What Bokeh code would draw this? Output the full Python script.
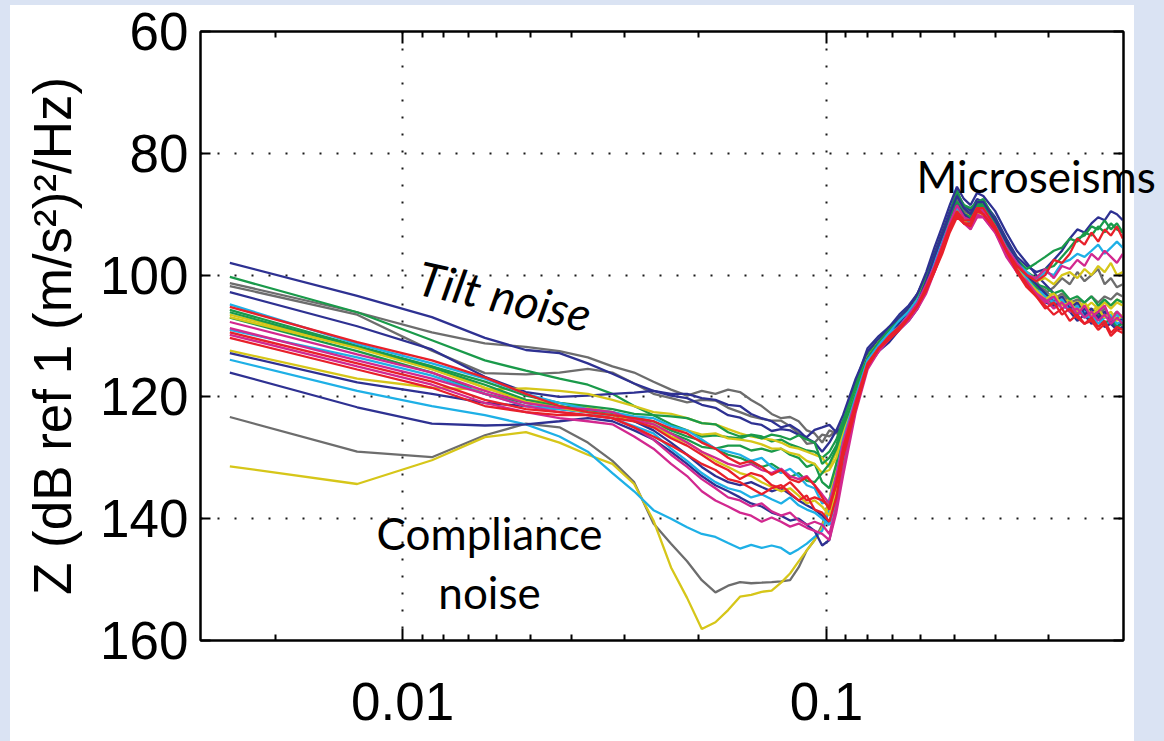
from bokeh.plotting import figure
from bokeh.models import Range1d, FixedTicker, LogAxis, LinearAxis, Label
from bokeh.embed import file_html
from bokeh.resources import INLINE

# ---------------- data ----------------
FREQ = [0.00391, 0.00781, 0.01172, 0.01563, 0.01953, 0.02344, 0.02734, 0.03125,
        0.03516, 0.03906, 0.04297, 0.04688, 0.05078, 0.05469, 0.05859, 0.0625,
        0.06641, 0.07031, 0.07422, 0.07813, 0.08203, 0.08594, 0.08984, 0.09375,
        0.09766, 0.10156, 0.10547, 0.10938,
        0.11719, 0.125, 0.13281, 0.14063, 0.14844, 0.15625, 0.16406, 0.17188,
        0.17969, 0.1875, 0.19531, 0.20313, 0.21094, 0.21875, 0.22656, 0.23438,
        0.25, 0.26563, 0.28125, 0.29688, 0.3125, 0.32813, 0.34375, 0.35938,
        0.375, 0.39063, 0.40625, 0.42188, 0.4375, 0.45313, 0.46875, 0.48438, 0.5]

navy_a = [98.0,103.4,106.9,110.3,112.3,112.8,114.5,116.2,
          117.8,119.0,119.8,120.2,121.3,121.8,123.0,123.4,124.3,124.6,125.6,125.3,
          125.5,126.2,126.6,125.4,125.0,124.6,125.8,124.8,
          117.5,112.0,110.0,108.5,106.5,105.0,103.0,100.0,96.5,93.0,89.5,86.5,88.5,89.5,87.5,88.0,
          90.5,94.0,97.0,98.5,99.5,99.0,97.5,96.0,94.0,92.5,93.0,91.5,90.5,91.0,89.5,90.0,91.0]
green_a = [100.3,106.1,110.7,114.0,115.7,117.0,118.0,119.5,
           121.5,123.0,124.5,125.5,126.5,126.3,126.6,126.8,126.2,126.5,127.3,127.0,
           127.8,128.3,128.8,129.0,130.0,129.0,127.0,124.0,
           118.0,113.0,110.5,109.0,107.0,105.5,103.5,100.5,97.0,93.5,90.0,86.0,89.0,90.0,88.5,88.0,
           91.0,94.5,97.5,99.5,100.5,99.0,98.5,97.0,95.5,94.0,93.5,92.0,92.5,91.0,92.5,91.5,93.0]
gray_a = [101.3,106.1,109.4,111.2,111.8,112.5,113.5,115.0,
          116.0,117.5,118.8,119.8,119.0,119.5,118.8,119.2,120.5,121.5,122.8,123.5,
          123.3,124.0,125.5,126.0,127.5,125.5,126.0,125.5,
          119.0,113.5,111.0,109.0,108.0,106.0,104.0,101.5,98.0,94.5,91.0,88.5,90.0,90.5,88.0,88.5,
          92.0,95.5,98.0,100.5,101.0,103.0,102.0,100.5,101.5,99.5,101.0,100.0,99.0,101.5,100.5,102.0,101.5]
navy_b = [102.8,108.4,112.2,116.7,119.2,120.0,119.8,119.5,
          119.3,119.0,119.5,119.5,120.2,120.5,121.3,121.5,122.8,123.5,124.0,125.0,
          124.6,125.5,126.8,127.5,129.0,127.5,125.5,123.0,
          117.0,112.5,110.5,108.5,107.0,105.5,103.0,99.5,95.5,92.0,88.5,85.5,87.5,88.5,86.5,87.0,
          89.5,93.0,96.0,98.0,100.0,101.5,103.0,104.5,105.0,106.5,105.5,107.0,106.0,108.0,107.5,108.5,107.5]
cyan_a = [104.8,111.3,114.5,117.0,119.5,121.0,122.0,122.5,
          123.2,123.5,124.8,125.5,127.0,128.5,129.0,129.5,130.5,130.0,131.5,132.5,
          131.8,133.0,134.5,135.0,137.5,137.0,133.0,128.0,
          120.5,114.0,111.5,109.5,108.5,106.5,104.5,102.0,99.0,95.5,92.0,89.5,91.0,91.5,89.5,89.0,
          92.0,95.5,98.0,99.5,101.0,99.5,100.0,98.0,97.5,96.5,97.0,96.0,95.0,96.5,95.5,94.5,95.5]
red_a = [105.2,111.0,114.0,116.8,119.5,121.5,122.5,123.0,
         123.5,124.0,125.2,126.0,127.5,128.5,130.0,131.0,130.5,131.5,132.8,132.0,
         133.5,134.0,133.2,134.5,136.5,138.5,134.0,129.0,
         121.5,115.0,112.0,110.5,109.0,107.0,105.0,102.5,99.5,96.5,93.0,90.5,91.5,92.0,89.5,90.0,
         92.5,96.0,98.5,100.0,101.0,100.0,97.5,98.0,96.5,94.0,95.0,93.0,94.5,92.5,93.5,92.0,94.0]
green_b = [105.7,111.6,115.0,117.5,119.8,121.0,121.5,122.0,
           122.8,123.0,123.2,123.5,124.3,124.5,125.8,126.5,126.3,126.8,126.2,126.5,
           127.0,126.3,127.0,127.5,131.0,130.0,128.0,124.0,
           118.5,113.5,111.0,109.0,107.5,106.0,104.0,101.0,97.5,94.0,90.5,87.0,88.5,89.0,88.0,87.5,
           91.0,95.0,98.0,100.5,102.0,103.0,104.5,104.0,105.5,106.0,106.5,107.5,106.5,108.0,107.0,108.5,108.0]
green_c = [106.1,111.8,115.2,118.0,120.5,121.5,122.3,122.6,
           123.4,124.0,125.5,126.5,127.2,128.5,129.5,130.0,130.8,131.5,131.0,132.0,
           133.2,132.5,133.8,134.0,132.5,131.0,128.5,125.0,
           119.5,114.0,111.5,110.0,108.0,106.5,104.5,101.5,98.0,94.5,91.0,88.0,90.0,90.5,89.0,88.5,
           91.5,95.0,97.5,100.0,101.5,102.0,103.0,102.5,104.0,103.5,104.5,103.5,105.0,104.0,105.0,104.0,104.5]
yellow_a = [106.5,111.8,115.0,118.5,120.5,121.0,121.8,122.5,
            124.0,125.0,125.3,125.5,126.2,126.0,126.8,127.0,127.3,127.8,128.5,128.5,
            129.2,129.5,130.5,131.0,132.5,132.0,130.0,126.0,
            119.0,113.5,111.0,109.5,108.0,106.0,104.0,101.5,98.0,94.5,91.5,89.0,91.0,91.5,90.0,89.5,
            92.5,96.0,98.5,99.5,101.0,100.5,101.5,100.0,99.5,100.5,99.0,100.0,98.5,99.5,98.0,100.0,99.5]
yellow_b = [106.9,112.0,115.5,118.5,120.8,121.8,122.5,123.0,
            123.8,124.5,126.5,127.5,129.0,130.5,131.5,132.5,133.0,134.0,134.8,135.5,
            135.0,136.2,137.5,137.0,138.0,139.5,135.0,129.0,
            121.0,114.5,112.0,110.5,108.5,107.0,105.0,102.5,99.0,95.5,92.0,89.5,91.0,92.0,90.5,90.0,
            92.5,96.5,99.0,101.0,102.5,104.0,103.0,105.0,104.5,106.0,105.0,106.5,105.5,107.0,106.0,107.5,106.5]
magenta_a = [107.7,113.0,116.0,119.0,121.0,121.8,122.0,122.5,
             123.8,124.5,126.0,127.5,129.0,130.0,131.0,131.5,131.0,132.0,132.5,131.8,
             133.0,133.5,133.0,134.5,136.0,137.5,133.0,127.5,
             120.5,114.5,112.0,110.0,108.5,106.5,104.5,101.5,98.5,95.0,91.5,88.5,90.5,91.0,89.0,89.5,
             92.0,95.5,98.0,100.0,100.5,99.0,100.5,98.5,99.0,97.5,98.5,96.5,97.5,96.0,97.0,98.0,96.5]
magenta_b = [108.7,114.0,117.0,119.5,121.5,122.5,123.0,123.5,
             125.0,127.0,129.5,131.5,133.5,135.0,136.5,137.0,138.0,137.5,138.8,139.5,
             139.0,140.3,141.0,140.5,141.0,142.5,138.0,132.0,
             122.0,115.0,112.5,110.5,109.0,107.5,105.5,103.0,99.5,96.0,92.5,90.0,91.5,92.5,90.5,90.5,
             93.0,96.5,99.5,101.5,103.0,104.5,103.5,105.5,104.5,106.5,105.0,107.0,106.0,105.0,107.5,106.0,107.0]
cyan_b = [109.0,113.5,116.5,119.5,121.5,122.0,122.5,123.5,
          124.8,126.0,128.5,130.5,132.5,134.0,135.0,135.5,136.5,136.0,136.8,137.5,
          136.5,137.8,138.5,139.0,140.0,141.0,136.5,130.5,
          121.0,114.0,112.0,110.0,108.5,106.5,104.5,102.0,98.5,95.0,91.5,89.0,90.5,91.5,89.5,89.5,
          92.5,96.0,99.0,101.0,102.5,103.5,104.5,104.0,106.0,105.0,107.0,106.5,108.0,107.0,106.5,108.0,107.5]
red_b = [109.4,114.5,117.5,120.5,122.0,122.5,123.0,123.5,
         124.0,125.0,126.8,128.0,129.5,131.0,132.0,133.5,132.5,133.0,134.5,135.0,
         134.0,135.5,137.0,136.5,137.0,138.0,134.5,128.5,
         121.0,114.5,112.0,110.5,109.0,107.0,105.0,102.0,99.0,95.5,92.0,89.5,91.0,91.0,89.0,89.0,
         92.0,96.0,99.5,102.0,103.5,105.5,104.5,106.5,105.5,107.0,108.0,107.0,108.5,107.5,109.5,108.5,109.0]
magenta_c = [109.8,115.0,118.0,121.0,122.5,123.5,124.0,124.5,
             126.5,128.5,131.0,133.0,135.5,137.0,138.0,139.0,139.5,140.5,139.8,140.5,
             141.3,140.8,141.5,142.0,142.5,143.5,139.0,133.0,
             122.5,115.5,112.5,110.5,109.0,107.0,105.0,102.5,99.5,96.0,92.5,90.0,91.5,92.0,90.0,90.5,
             93.0,97.0,99.5,101.0,103.0,104.0,105.5,104.5,106.0,105.5,107.0,106.0,107.5,106.5,108.0,107.0,108.0]
red_c = [110.3,115.5,118.5,121.5,122.5,123.0,123.0,123.5,
         125.0,126.5,128.0,129.5,131.0,132.0,133.5,134.0,135.0,136.0,135.0,134.5,
         135.8,137.0,136.2,138.5,139.0,140.5,136.5,130.0,
         122.0,115.0,112.0,110.0,108.5,107.0,105.0,102.5,99.0,95.5,92.5,90.0,91.5,91.5,89.0,90.0,
         92.5,96.0,99.0,101.5,103.5,105.0,106.5,105.5,107.5,106.5,108.0,107.5,109.0,108.0,110.0,109.0,109.5]
yellow_c = [112.4,117.0,118.5,118.8,118.6,119.0,119.5,120.5,
            121.5,122.5,122.8,123.5,124.3,124.5,125.3,126.0,126.5,126.8,127.0,127.5,
            128.2,128.5,129.0,129.5,130.0,131.5,129.0,125.5,
            119.0,113.5,111.0,109.5,107.5,106.0,104.0,101.0,97.5,94.0,91.0,88.5,90.5,91.0,89.5,89.0,
            92.0,95.5,98.5,100.5,102.0,103.5,103.0,104.5,104.0,105.5,104.5,106.0,105.0,104.5,105.5,104.5,105.0]
navy_c = [112.8,117.6,119.5,121.0,121.5,122.0,122.5,123.0,
          124.0,125.5,127.5,129.5,131.5,133.0,134.0,134.5,134.0,134.8,135.5,135.0,
          136.0,137.0,137.8,138.5,139.5,141.0,136.0,129.5,
          121.0,114.0,111.5,110.0,108.0,106.5,104.5,101.0,97.0,93.5,90.0,87.0,89.0,90.0,88.0,88.0,
          91.0,94.5,97.5,100.0,101.5,103.0,104.5,103.5,105.5,104.5,106.5,105.5,107.0,106.0,108.0,107.0,107.5]
cyan_c = [113.9,119.0,121.5,123.0,124.5,126.5,129.0,132.5,
          135.5,138.6,140.0,141.4,142.5,143.0,144.0,144.9,144.3,144.8,144.4,144.8,
          145.8,145.0,144.1,143.0,142.0,138.5,133.0,127.0,
          120.0,114.0,111.5,109.5,107.5,106.0,104.0,101.5,98.0,94.5,91.5,89.0,90.5,91.0,89.5,89.5,
          92.0,96.0,99.0,100.5,102.5,103.0,104.0,105.5,105.0,106.5,106.0,107.5,107.0,108.5,107.5,106.5,107.5]
navy_d = [116.0,121.7,124.4,124.7,124.5,124.0,123.5,124.0,
          125.5,127.0,129.0,131.0,133.0,134.5,135.5,136.5,137.5,138.0,139.0,139.5,
          140.3,140.0,141.0,142.0,144.4,143.5,138.0,131.0,
          122.0,115.0,112.5,111.0,109.0,107.5,105.5,102.5,99.0,95.0,91.5,88.5,90.0,91.0,89.0,89.0,
          92.5,96.0,99.0,101.5,103.0,104.5,105.0,104.5,106.0,107.5,106.5,108.0,107.0,108.5,108.0,109.0,108.5]
gray_b = [123.3,129.0,129.9,126.3,124.4,125.0,127.5,130.5,
          134.0,140.8,144.1,147.0,150.1,152.1,151.0,150.4,150.6,150.5,150.4,150.3,
          150.1,148.0,145.2,143.5,141.0,137.0,131.5,126.0,
          120.0,114.0,111.5,109.5,108.0,106.0,104.0,101.0,97.5,94.0,90.5,88.0,90.0,90.5,88.5,89.0,
          92.0,95.5,98.5,100.5,102.0,103.5,105.0,104.0,105.5,104.5,106.0,105.5,106.5,105.5,107.0,106.0,107.0]
yellow_d = [131.4,134.3,130.4,126.6,125.8,127.5,129.5,131.0,
            134.3,140.3,148.0,153.0,158.1,157.0,155.0,152.8,152.5,152.0,151.8,150.5,
            149.0,147.0,145.2,143.5,141.5,137.0,131.0,125.0,
            118.5,113.5,111.0,109.0,107.5,105.5,103.5,100.5,97.0,93.5,90.0,87.5,89.5,90.5,88.5,88.5,
            91.5,95.0,98.0,100.5,102.0,103.0,104.0,103.5,105.0,104.0,105.5,104.5,105.5,104.5,105.0,104.0,104.5]
gray_c = [101.8,106.5,112.4,116.1,116.3,116.0,115.4,116.0,
          117.8,119.5,120.2,120.9,120.5,120.6,121.8,122.5,123.2,123.6,123.9,123.9,
          124.8,126.0,127.7,127.5,126.2,126.5,125.5,124.0,
          118.0,113.0,110.5,108.5,107.0,105.5,103.0,100.0,96.5,93.0,90.0,87.5,89.5,90.0,88.0,88.0,
          91.0,94.5,97.5,100.0,101.5,102.5,104.0,103.0,104.5,104.0,104.5,103.5,104.5,103.5,104.0,103.0,103.5]
green_d = [107.0,112.5,116.0,119.5,121.0,121.5,122.0,122.5,
           123.5,124.5,126.0,127.0,128.2,128.5,128.0,128.0,128.8,128.5,129.0,128.5,
           129.5,130.0,131.5,131.0,134.0,135.0,131.0,126.0,
           119.5,114.0,111.5,109.5,108.0,106.0,104.0,101.0,97.5,94.0,90.5,88.0,90.0,90.5,88.5,88.5,
           91.5,95.0,97.5,99.0,98.0,97.0,96.0,95.5,94.0,94.5,93.0,93.5,92.0,93.0,91.5,92.5,93.0]

NAVY, GREEN, RED, CYAN = "#2e3192", "#1a9a4a", "#e8202a", "#1eb0e6"
MAGENTA, YELLOW, GRAY = "#d2288f", "#d6c619", "#6d6d6d"

SERIES = [
    (gray_b, GRAY), (yellow_d, YELLOW), (gray_c, GRAY), (gray_a, GRAY),
    (navy_a, NAVY), (green_a, GREEN), (navy_b, NAVY), (green_d, GREEN),
    (yellow_a, YELLOW), (yellow_c, YELLOW), (green_b, GREEN), (green_c, GREEN),
    (cyan_c, CYAN), (navy_d, NAVY), (navy_c, NAVY), (cyan_a, CYAN), (cyan_b, CYAN),
    (yellow_b, YELLOW), (magenta_a, MAGENTA), (magenta_b, MAGENTA), (magenta_c, MAGENTA),
    (red_a, RED), (red_b, RED), (red_c, RED),
]

X_MAJOR = [0.01, 0.1]
X_MINOR = [0.005, 0.01111, 0.0125, 0.01429, 0.01667, 0.02, 0.025, 0.03333, 0.05,
           0.1111, 0.125, 0.1429, 0.1667, 0.2, 0.25, 0.3333]
Y_TICKS = [60, 80, 100, 120, 140, 160]
MICRO_Y = 83.8   # level (dB) where the "Microseisms" note sits

FONT = "Liberation Sans"
TXT = "Lato"

# ---------------- figure ----------------
p = figure(width=1164, height=741, x_axis_type="log",
           x_range=Range1d(0.003334, 0.502), y_range=Range1d(160, 60),
           output_backend="svg", toolbar_location=None,
           min_border_left=200, min_border_right=41, min_border_top=31, min_border_bottom=101,
           background_fill_color="white")
p.border_fill_alpha = 0
p.styles = {
    "background": ("linear-gradient(to right, #dae3f3 0px, #dae3f3 10px, rgba(255,255,255,0) 10px, "
                   "rgba(255,255,255,0) 1134px, #dae3f3 1134px), "
                   "linear-gradient(to bottom, #dae3f3 0px, #dae3f3 5px, #ffffff 5px)")
}

p.outline_line_color = "black"
p.outline_line_width = 2
p.outline_line_alpha = 1

xt = FixedTicker(ticks=X_MAJOR, minor_ticks=X_MINOR)
yt = FixedTicker(ticks=Y_TICKS, minor_ticks=[])

xa = p.xaxis[0]
xa.ticker = xt
xa.major_label_overrides = {0.01: "0.01", 0.1: "0.1"}
xa.major_label_text_font = FONT
xa.major_label_text_font_size = "53px"
xa.major_label_text_color = "black"
xa.major_label_standoff = 42
xa.major_tick_in = 12
xa.major_tick_out = 0
xa.minor_tick_in = 6
xa.minor_tick_out = 0
xa.axis_line_width = 2
xa.major_tick_line_width = 2
xa.minor_tick_line_width = 2

ya = p.yaxis[0]
ya.ticker = yt
ya.major_label_text_font = FONT
ya.major_label_text_font_size = "53px"
ya.major_label_text_color = "black"
ya.major_label_standoff = 12
ya.major_tick_in = 10
ya.major_tick_out = 0
ya.minor_tick_line_color = None
ya.axis_line_width = 2
ya.major_tick_line_width = 2
ya.axis_label = "Z (dB ref 1 (m/s²)²/Hz)"
ya.axis_label_text_font = FONT
ya.axis_label_text_font_size = "53px"
ya.axis_label_text_font_style = "normal"
ya.axis_label_text_color = "black"
ya.axis_label_standoff = 15

top = LogAxis(ticker=xt, major_label_text_font_size="1px", major_label_text_alpha=0,
              major_label_standoff=0, major_tick_in=12, major_tick_out=0,
              minor_tick_in=6, minor_tick_out=0, axis_line_width=2,
              major_tick_line_width=2, minor_tick_line_width=2)
p.add_layout(top, "above")
right = LinearAxis(ticker=yt, major_label_text_font_size="1px", major_label_text_alpha=0,
                   major_label_standoff=0, major_tick_in=10, major_tick_out=0,
                   minor_tick_line_color=None, axis_line_width=2, major_tick_line_width=2)
p.add_layout(right, "right")

# "Microseisms" note runs past the frame edge, so it is drawn as the label of a bare right axis
micro = LinearAxis(ticker=FixedTicker(ticks=[MICRO_Y], minor_ticks=[]),
                   major_label_overrides={MICRO_Y: "Microseisms"},
                   major_label_text_font=TXT, major_label_text_font_size="44px",
                   major_label_text_color="black", major_label_orientation="horizontal",
                   major_label_standoff=-213, major_tick_line_color=None,
                   minor_tick_line_color=None, axis_line_color=None)
p.add_layout(micro, "right")

for g in (p.xgrid[0], p.ygrid[0]):
    g.grid_line_color = "black"
    g.grid_line_dash = "2 15"
    g.grid_line_width = 2
    g.grid_line_alpha = 0.9

for vals, col in SERIES:
    p.line(FREQ, vals, line_color=col, line_width=2.3)

p.add_layout(Label(x=0.01091, y=100.2, text="Tilt noise", angle=-0.22,
                   text_font=TXT, text_font_size="47px", text_font_style="italic",
                   text_align="left", text_baseline="alphabetic", text_color="black"))
p.add_layout(Label(x=0.01603, y=142.4, text="Compliance",
                   text_font=TXT, text_font_size="44px",
                   text_align="center", text_baseline="alphabetic", text_color="black"))
p.add_layout(Label(x=0.01603, y=152.0, text="noise",
                   text_font=TXT, text_font_size="44px",
                   text_align="center", text_baseline="alphabetic", text_color="black"))

open("out.html", "w").write(file_html(p, INLINE))
